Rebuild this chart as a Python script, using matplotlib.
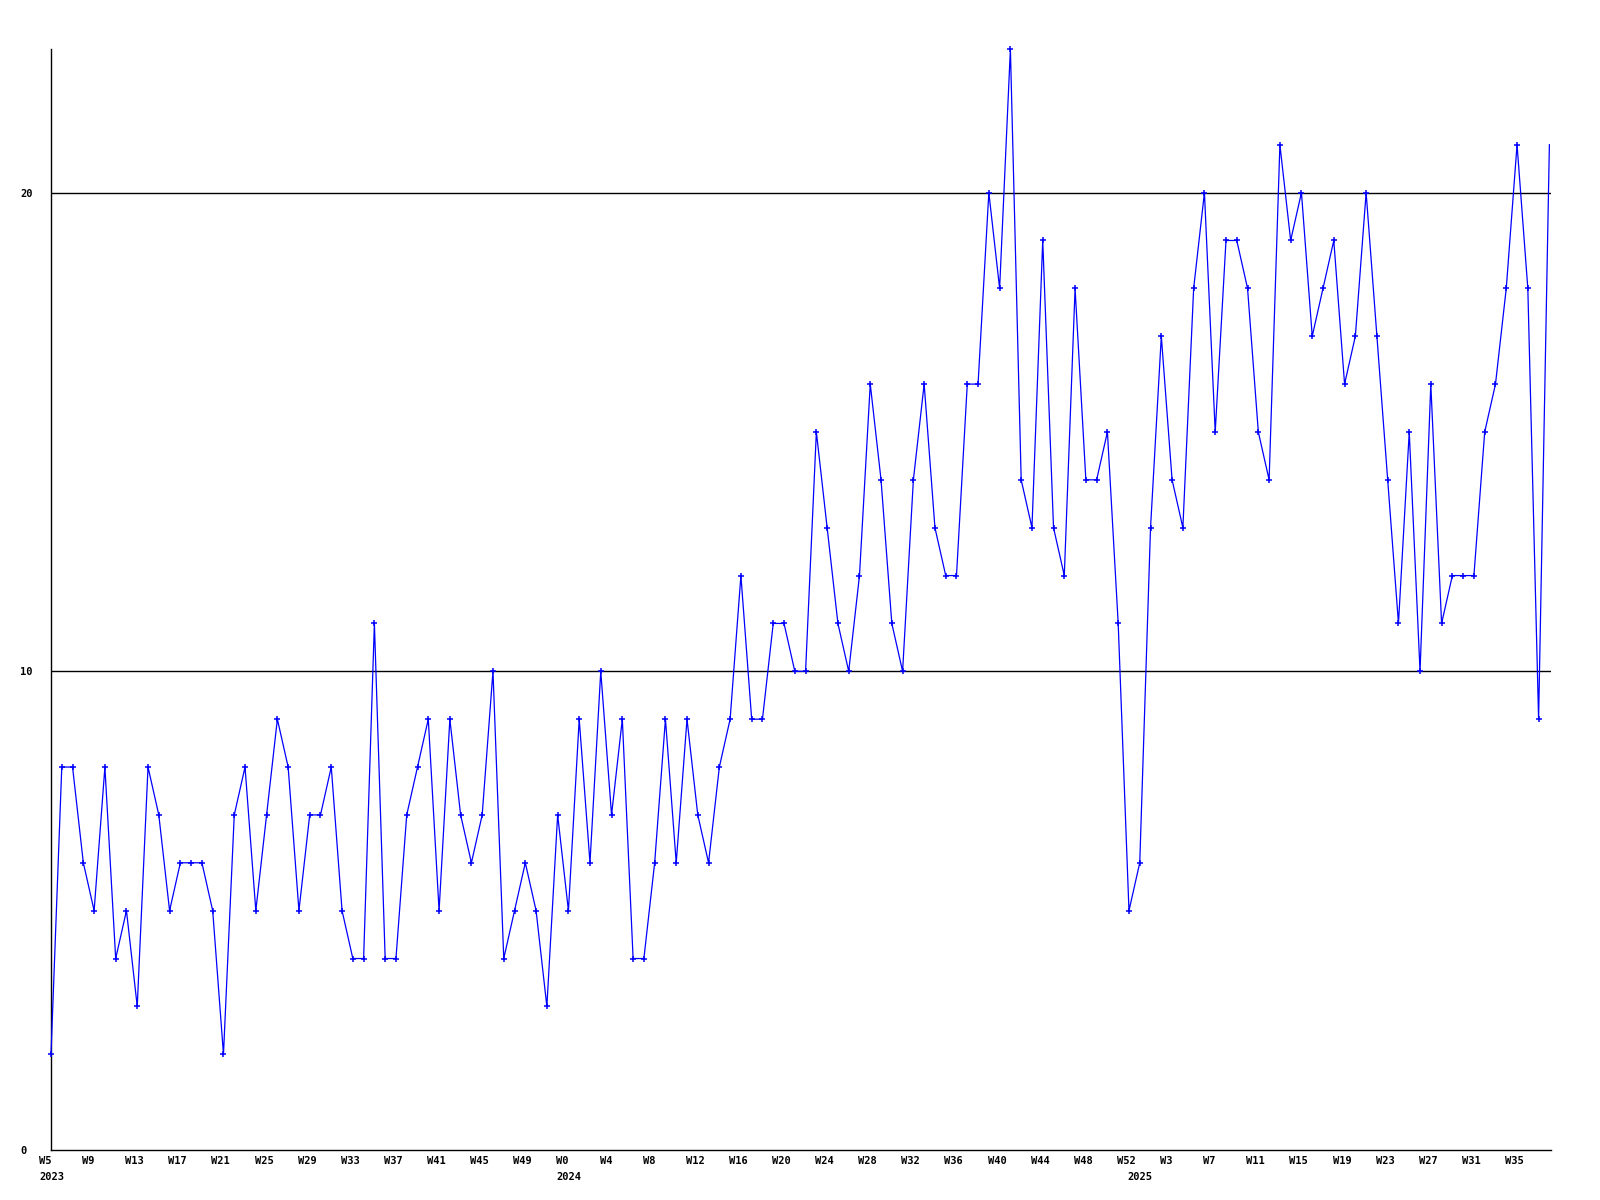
import matplotlib
matplotlib.use("Agg")
import matplotlib.pyplot as plt
import matplotlib.transforms as mtransforms

# weekly counts, W5 2023 .. W38 2025
values_2023 = [2, 8, 8, 6, 5, 8, 4, 5, 3, 8,
               7, 5, 6, 6, 6, 5, 2, 7, 8, 5,
               7, 9, 8, 5, 7, 7, 8, 5, 4, 4,
               11, 4, 4, 7, 8, 9, 5, 9, 7, 6,
               7, 10, 4, 5, 6, 5, 3, 7]
values_2024 = [5, 9, 6, 10, 7, 9, 4, 4, 6, 9,
               6, 9, 7, 6, 8, 9, 12, 9, 9, 11,
               11, 10, 10, 15, 13, 11, 10, 12, 16, 14,
               11, 10, 14, 16, 13, 12, 12, 16, 16, 20,
               18, 23, 14, 13, 19, 13, 12, 18, 14, 14,
               15, 11, 5]
values_2025 = [6, 13, 17, 14, 13, 18, 20, 15, 19, 19,
               18, 15, 14, 21, 19, 20, 17, 18, 19, 16,
               17, 20, 17, 14, 11, 15, 10, 16, 11, 12,
               12, 12, 15, 16, 18, 21, 18, 9, 21]

weeks = list(range(5, 53)) + list(range(0, 53)) + list(range(0, 39))
years = [2023] * len(values_2023) + [2024] * len(values_2024) + [2025] * len(values_2025)
values = values_2023 + values_2024 + values_2025
x = list(range(len(values)))

y_ticks = [0, 10, 20]

plt.rcParams["font.family"] = "DejaVu Sans Mono"
plt.rcParams["font.weight"] = "bold"

fig = plt.figure(figsize=(16, 12), dpi=100)
ax = fig.add_axes([51 / 1600, 50 / 1200, 1500 / 1600, 1101 / 1200])

for yv in y_ticks[1:]:
    ax.axhline(yv, color="black", lw=1, zorder=1)

# the last point sits on the right edge, its marker is cut off there
ax.plot(x, values, color="#0000ff", lw=0.9, marker="+", markersize=4, mew=1.1, zorder=3,
        clip_on=False, markevery=list(range(len(values) - 1)))

ax.set_xlim(0, len(values) - 0.85)
ax.set_ylim(0, 23)
for side in ["top", "right"]:
    ax.spines[side].set_visible(False)
for side in ["left", "bottom"]:
    ax.spines[side].set_color("black")
    ax.spines[side].set_linewidth(1)

ax.set_xticks([])
ax.set_yticks(y_ticks)
ax.set_yticklabels([str(v) for v in y_ticks], fontsize=7.5, fontweight="bold")
ax.tick_params(axis="y", length=0, pad=22)
for lab in ax.get_yticklabels():
    lab.set_horizontalalignment("left")

# week labels every 4 weeks, year label where the year starts
week_tr = mtransforms.offset_copy(ax.get_xaxis_transform(), fig=fig, x=-12, y=-11, units="dots")
year_tr = mtransforms.offset_copy(ax.get_xaxis_transform(), fig=fig, x=-12, y=-27, units="dots")
for i in range(0, len(values), 4):
    ax.text(i, 0, f"W{weeks[i]}", transform=week_tr, ha="left", va="center",
            fontsize=7.5, fontweight="bold")
for i in range(len(values)):
    if i == 0 or years[i] != years[i - 1]:
        ax.text(i, 0, str(years[i]), transform=year_tr, ha="left", va="center",
                fontsize=7.5, fontweight="bold")

fig.savefig("out.png", dpi=100)
